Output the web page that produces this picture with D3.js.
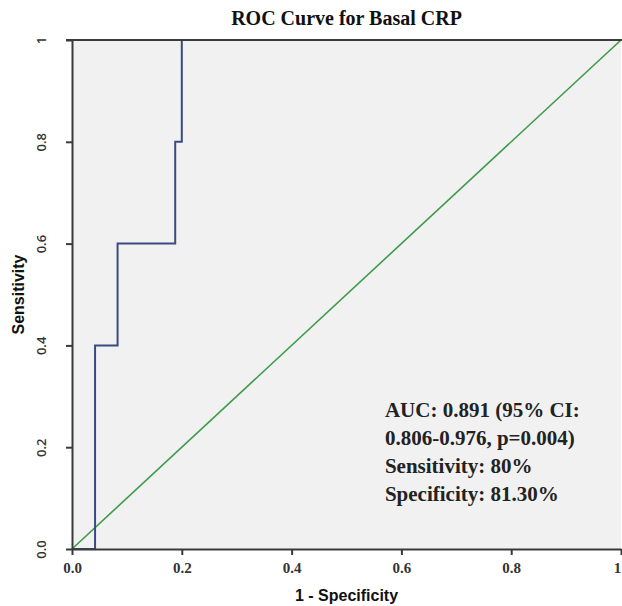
<!DOCTYPE html>
<html>
<head>
<meta charset="utf-8">
<script src="https://cdn.jsdelivr.net/npm/d3@7"></script>
<style>
  body { margin: 0; background: #fff; }
  svg { display: block; }
</style>
</head>
<body>
<svg width="622" height="606"></svg>
<script>
// ROC curve points (1 - specificity, sensitivity)
const fpr = [0, 0.042, 0.042, 0.083, 0.083, 0.188, 0.188, 0.2, 0.2, 1];
const tpr = [0, 0, 0.4, 0.4, 0.6, 0.6, 0.8, 0.8, 1, 1];
// reference line
const refX = [0, 1];
const refY = [0, 1];

const tickValues = [0, 0.2, 0.4, 0.6, 0.8, 1];
const tickLabels = ['0.0', '0.2', '0.4', '0.6', '0.8', '1'];

const title = 'ROC Curve for Basal CRP';
const xTitle = '1 - Specificity';
const yTitle = 'Sensitivity';
const notes = ['AUC: 0.891 (95% CI:', '0.806-0.976, p=0.004)', 'Sensitivity: 80%', 'Specificity: 81.30%'];

const svg = d3.select('svg');
const margin = {top: 40, right: 1, bottom: 57, left: 72};
const width = 622 - margin.left - margin.right;
const height = 606 - margin.top - margin.bottom;

const g = svg.append('g')
    .attr('transform', `translate(${margin.left},${margin.top})`);

const xScale = d3.scaleLinear().domain([0, 1]).range([0, width]);
const yScale = d3.scaleLinear().domain([0, 1]).range([height, 0]);

// plot background
g.append('rect')
    .attr('width', width)
    .attr('height', height)
    .attr('fill', '#f1f1f1');

// diagonal
const line = d3.line().x(d => xScale(d[0])).y(d => yScale(d[1]));
g.append('path')
    .datum(d3.zip(refX, refY))
    .attr('d', line)
    .attr('fill', 'none')
    .attr('stroke', '#3f9a4a')
    .attr('stroke-width', 1.6);

// ROC curve
g.append('path')
    .datum(d3.zip(fpr, tpr))
    .attr('d', line)
    .attr('fill', 'none')
    .attr('stroke', '#3d4a80')
    .attr('stroke-width', 2);

// top border
g.append('line')
    .attr('x1', -6).attr('x2', width + 1)
    .attr('y1', 0).attr('y2', 0)
    .attr('stroke', '#3a3a3a')
    .attr('stroke-width', 2);

// axes
const xAxis = g.append('g')
    .attr('transform', `translate(0,${height})`)
    .call(d3.axisBottom(xScale).tickValues(tickValues).tickFormat((d, i) => tickLabels[i]).tickSize(6).tickSizeOuter(0));
xAxis.selectAll('text')
    .attr('y', 10)
    .attr('dy', '0.9em')
    .attr('x', (d, i) => i === tickValues.length - 1 ? -4 : 0)
    .style('font-family', '"Liberation Serif", "Times New Roman", serif')
    .style('font-weight', 'bold')
    .style('font-size', '15px')
    .attr('fill', '#333');

const yAxis = g.append('g')
    .call(d3.axisLeft(yScale).tickValues(tickValues).tickFormat((d, i) => tickLabels[i]).tickSize(6).tickSizeOuter(0));
yAxis.selectAll('text')
    .attr('x', 0)
    .attr('dy', 0)
    .attr('text-anchor', 'middle')
    .attr('transform', 'translate(-26,0) rotate(-90)')
    .style('font-family', '"Open Sans", sans-serif')
    .style('font-weight', '600')
    .style('font-size', '13px')
    .attr('fill', '#333');

g.selectAll('.domain, .tick line')
    .attr('stroke', '#3a3a3a')
    .attr('stroke-width', 2);

// titles
svg.append('text')
    .attr('x', margin.left + width / 2)
    .attr('y', 25)
    .attr('text-anchor', 'middle')
    .style('font-family', '"Liberation Serif", "Times New Roman", serif')
    .style('font-weight', 'bold')
    .style('font-size', '20px')
    .attr('fill', '#111')
    .text(title);

svg.append('text')
    .attr('x', margin.left + width / 2)
    .attr('y', 601)
    .attr('text-anchor', 'middle')
    .style('font-family', '"Liberation Sans", Arial, sans-serif')
    .style('font-weight', 'bold')
    .style('font-size', '16px')
    .attr('fill', '#111')
    .text(xTitle);

svg.append('text')
    .attr('transform', `translate(24,${margin.top + height / 2}) rotate(-90)`)
    .attr('text-anchor', 'middle')
    .style('font-family', '"Liberation Sans", Arial, sans-serif')
    .style('font-weight', 'bold')
    .style('font-size', '16px')
    .attr('fill', '#111')
    .text(yTitle);

// annotation
g.append('g')
    .selectAll('text')
    .data(notes)
    .enter()
    .append('text')
    .attr('x', xScale(0.57))
    .attr('y', (d, i) => yScale(0.26) + i * 28)
    .style('font-family', '"Liberation Serif", "Times New Roman", serif')
    .style('font-weight', 'bold')
    .style('font-size', '21px')
    .attr('fill', '#222')
    .text(d => d);
</script>
</body>
</html>
